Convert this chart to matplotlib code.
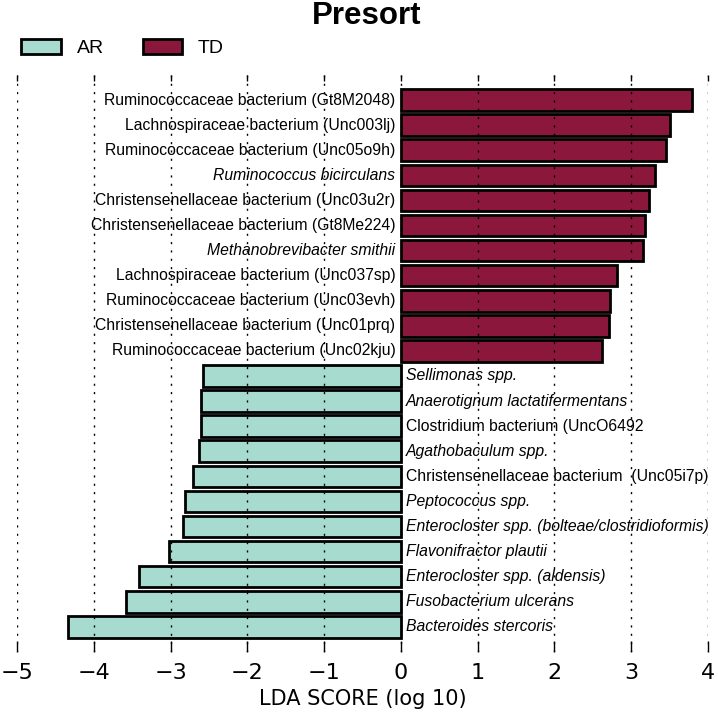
import matplotlib
matplotlib.use("Agg")
import matplotlib.pyplot as plt
from matplotlib.patches import Patch

# taxa from top to bottom, LDA score (log10), group
names = [
    "Ruminococcaceae bacterium (Gt8M2048)",
    "Lachnospiraceae bacterium (Unc003lj)",
    "Ruminococcaceae bacterium (Unc05o9h)",
    "Ruminococcus bicirculans",
    "Christensenellaceae bacterium (Unc03u2r)",
    "Christensenellaceae bacterium (Gt8Me224)",
    "Methanobrevibacter smithii",
    "Lachnospiraceae bacterium (Unc037sp)",
    "Ruminococcaceae bacterium (Unc03evh)",
    "Christensenellaceae bacterium (Unc01prq)",
    "Ruminococcaceae bacterium (Unc02kju)",
    "Sellimonas spp.",
    "Anaerotignum lactatifermentans",
    "Clostridium bacterium (UncO6492",
    "Agathobaculum spp.",
    "Christensenellaceae bacterium  (Unc05i7p)",
    "Peptococcus spp.",
    "Enterocloster spp. (bolteae/clostridioformis)",
    "Flavonifractor plautii",
    "Enterocloster spp. (aldensis)",
    "Fusobacterium ulcerans",
    "Bacteroides stercoris",
]
scores = [3.79, 3.50, 3.45, 3.31, 3.23, 3.18, 3.15, 2.81, 2.73, 2.71, 2.62,
          -2.58, -2.60, -2.60, -2.63, -2.71, -2.81, -2.84, -3.02, -3.41, -3.58, -4.34]
groups = ["TD"] * 11 + ["AR"] * 11
colors = {"AR": "#a7dbcf", "TD": "#8b183c"}

fig = plt.figure(figsize=(7.18, 7.18), dpi=100)
ax = fig.add_axes([0.0237, 0.092, 0.9623, 0.8036])

ypos = list(range(len(names)))
ax.barh(ypos, scores, height=0.86, color=[colors[g] for g in groups],
        edgecolor="black", linewidth=2.0, zorder=1)

for y, name, s in zip(ypos, names, scores):
    style = "normal" if " bacterium" in name else "italic"
    if s > 0:
        ax.text(-0.07, y, name, ha="right", va="center", fontsize=11.3,
                family="Liberation Sans", style=style, zorder=3)
    else:
        ax.text(0.07, y, name, ha="left", va="center", fontsize=11.3,
                family="Liberation Sans", style=style, zorder=3)

ax.set_xlim(-5, 4)
ax.set_ylim(22.0, -1.0)
ax.set_xticks(range(-5, 5))
ax.set_yticks([])
for sp in ax.spines.values():
    sp.set_visible(False)
ax.xaxis.grid(True, linestyle=(0, (1.5, 4.5)), color="black", linewidth=1.0, zorder=2)
ax.set_axisbelow(False)
ax.tick_params(axis="x", which="major", direction="in", length=8, width=1,
               labelsize=16, pad=8, top=True)
for t in ax.xaxis.get_major_ticks():
    t.tick2line.set_markersize(4)
ax.set_xlabel("LDA SCORE (log 10)", fontsize=15, labelpad=4)

handles = [Patch(facecolor=colors["AR"], edgecolor="black", linewidth=2.0, label="AR"),
           Patch(facecolor=colors["TD"], edgecolor="black", linewidth=2.0, label="TD")]
fig.legend(handles=handles, loc="upper left", bbox_to_anchor=(0.005, 0.97), ncol=2,
           frameon=False, handlelength=2.05, handleheight=0.8, handletextpad=0.8,
           columnspacing=2.0, prop={"family": "Liberation Sans", "size": 14})

fig.suptitle("Presort", x=0.51, y=0.998, va="top", fontsize=22.5,
             fontweight="bold", family="Liberation Sans")

fig.savefig("out.png", dpi=100)
